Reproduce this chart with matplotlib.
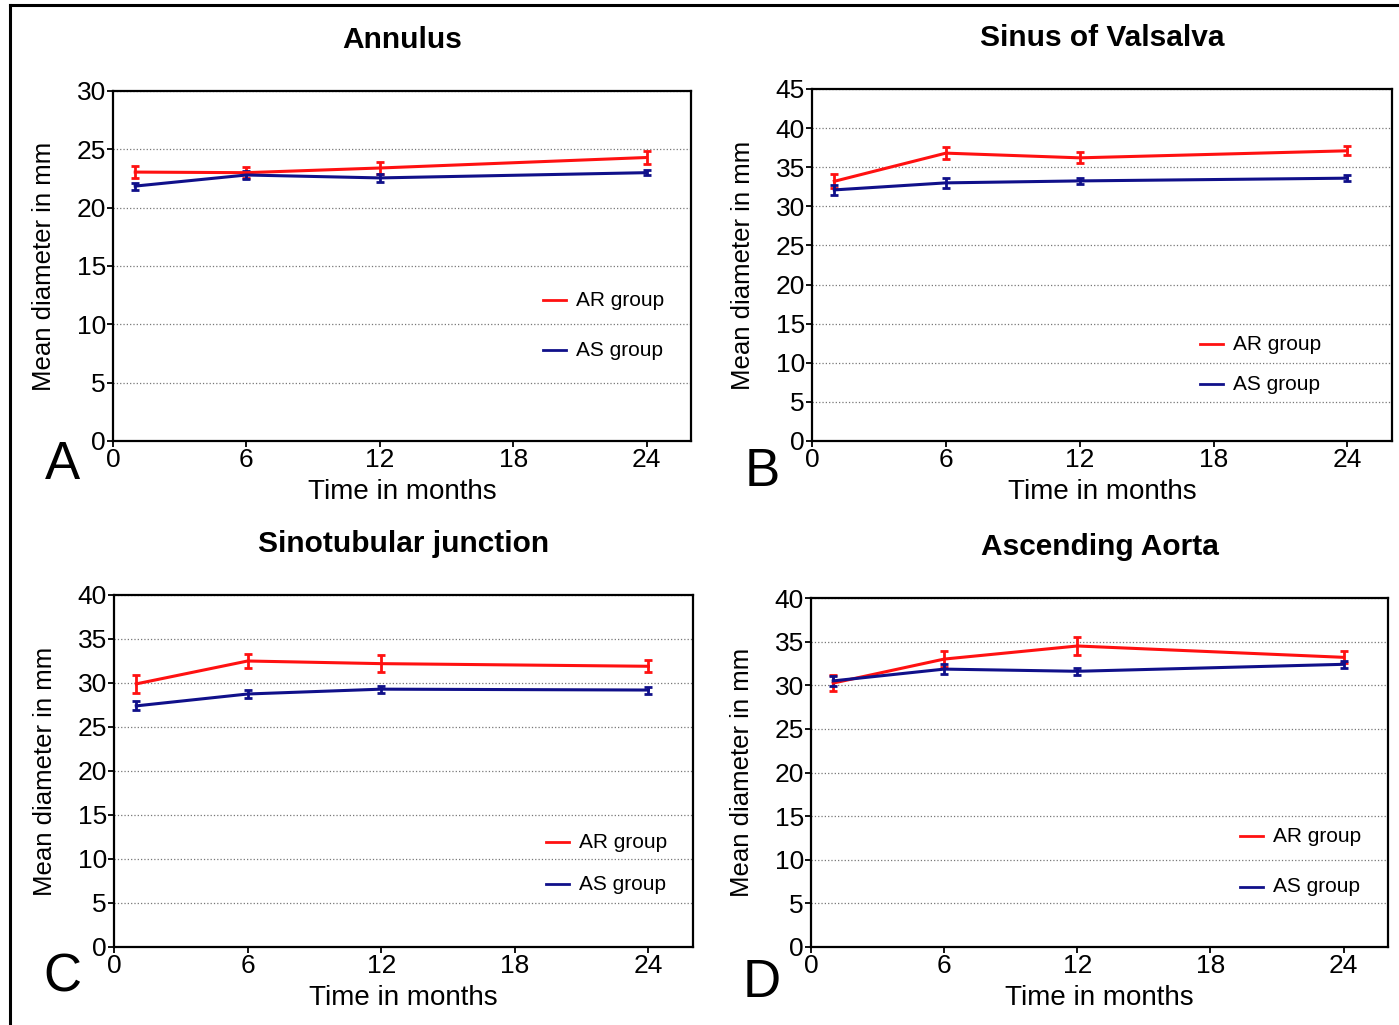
import matplotlib
matplotlib.use("Agg")
import matplotlib.pyplot as plt
from matplotlib.lines import Line2D

plt.rcParams['font.family'] = ['Liberation Sans', 'DejaVu Sans']

months = [1, 6, 12, 24]
x_ticks = [0, 6, 12, 18, 24]

titles = ["Annulus", "Sinus of Valsalva", "Sinotubular junction", "Ascending Aorta"]
letters = ["A", "B", "C", "D"]
ymax = [30, 45, 40, 40]

ar_mean = [
    [23.05, 23.0, 23.4, 24.3],
    [33.2, 36.8, 36.2, 37.1],
    [29.9, 32.5, 32.2, 31.9],
    [30.25, 33.0, 34.5, 33.2],
]
ar_err = [
    [0.5, 0.45, 0.5, 0.55],
    [0.9, 0.8, 0.7, 0.6],
    [1.0, 0.8, 1.0, 0.7],
    [0.9, 0.9, 1.0, 0.7],
]
as_mean = [
    [21.85, 22.8, 22.55, 23.0],
    [32.1, 33.0, 33.25, 33.6],
    [27.4, 28.75, 29.3, 29.2],
    [30.5, 31.85, 31.6, 32.4],
]
as_err = [
    [0.3, 0.35, 0.35, 0.2],
    [0.6, 0.6, 0.4, 0.4],
    [0.5, 0.5, 0.4, 0.4],
    [0.6, 0.6, 0.4, 0.4],
]

W, H = 1399, 1025
fig = plt.figure(figsize=(W / 100, H / 100), dpi=100)

# axes boxes in pixels: left, right, top, bottom
boxes = [
    (113, 691, 91, 441),
    (812, 1392, 89, 441),
    (114, 693, 595, 947),
    (811, 1388, 598, 947),
]
title_y = [40, 38, 544, 547]
letter_pos = [(62, 465), (762, 472), (62, 978), (762, 983)]
legend_anchor = [(543, 300, 50), (1200, 344, 40), (546, 842, 42), (1240, 836, 51)]

for i in range(4):
    l, r, t, b = boxes[i]
    ax = fig.add_axes([l / W, 1 - b / H, (r - l) / W, (b - t) / H])
    ax.errorbar(months, ar_mean[i], yerr=ar_err[i], color='#ff1111', lw=2.2,
                capsize=3, capthick=2, elinewidth=2, label='AR group')
    ax.errorbar(months, as_mean[i], yerr=as_err[i], color='#10108a', lw=2.2,
                capsize=3, capthick=2, elinewidth=2, label='AS group')
    ax.set_xlim(0, 26)
    ax.set_ylim(0, ymax[i])
    ax.set_xticks(x_ticks)
    ax.set_yticks(range(0, ymax[i] + 1, 5))
    ax.yaxis.grid(True, linestyle=':', color='#777777', lw=0.9)
    ax.set_axisbelow(True)
    ax.tick_params(direction='out', length=4, width=1.3, labelsize=19, pad=1)
    for s in ax.spines.values():
        s.set_linewidth(1.6)
    ax.set_xlabel("Time in months", fontsize=20, labelpad=5)
    ax.set_ylabel("Mean diameter in mm", fontsize=18.5, labelpad=15)
    cx = (l + r) / 2
    fig.text(cx / W, 1 - title_y[i] / H, titles[i], fontsize=21.5, fontweight='bold',
             ha='center', va='center')
    lx, ly = letter_pos[i]
    fig.text(lx / W, 1 - ly / H, letters[i], fontsize=38, ha='center', va='center')
    # legend entries
    lx0, ly0, gap = legend_anchor[i]
    for k, (lab, col) in enumerate([('AR group', '#ff1111'), ('AS group', '#10108a')]):
        yy = ly0 + k * gap
        fig.add_artist(Line2D([lx0 / W, (lx0 + 23) / W], [1 - yy / H, 1 - yy / H],
                              color=col, lw=2, transform=fig.transFigure))
        fig.text((lx0 + 33) / W, 1 - yy / H, lab, fontsize=15, ha='left', va='center')

# figure frame lines (top and left)
fig.add_artist(Line2D([10 / W, 1], [1 - 5 / H, 1 - 5 / H], color='black', lw=2.2,
                      transform=fig.transFigure))
fig.add_artist(Line2D([10 / W, 10 / W], [0, 1 - 5 / H], color='black', lw=2.2,
                      transform=fig.transFigure))

fig.savefig("out.png", dpi=100)
